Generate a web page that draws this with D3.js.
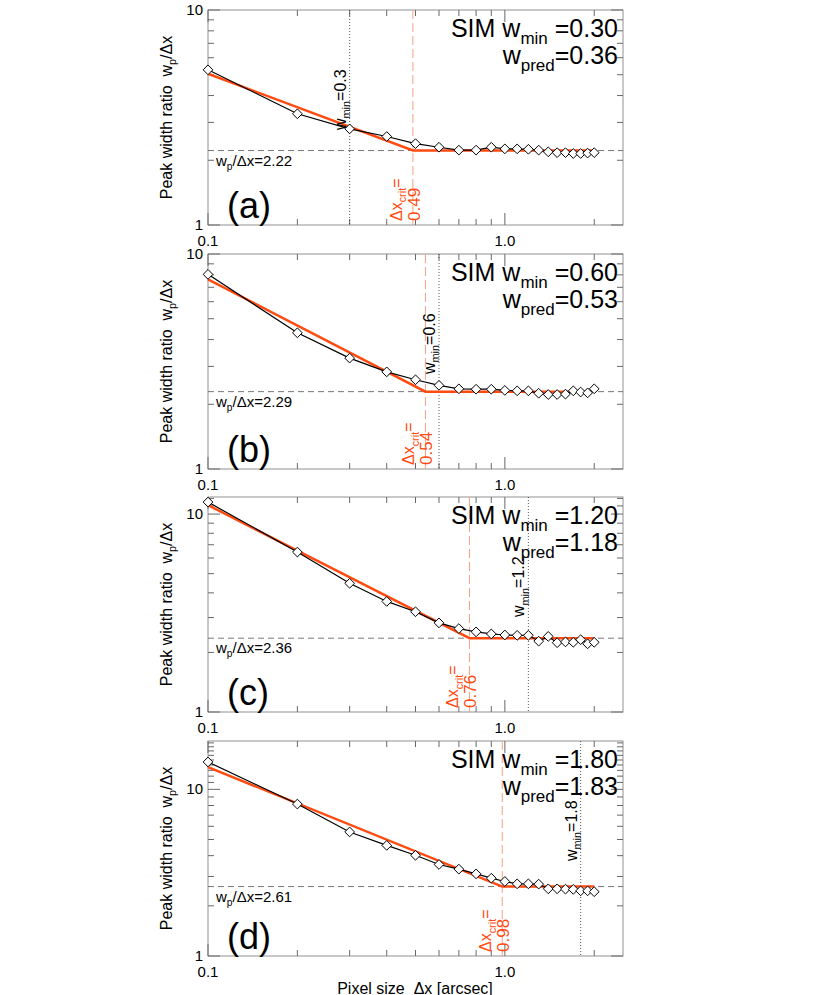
<!DOCTYPE html>
<html><head><meta charset="utf-8">
<script src="https://cdn.jsdelivr.net/npm/d3@7"></script>
<style>body{margin:0;background:#fff}text{font-family:"Liberation Sans",Arial,sans-serif;white-space:pre}</style>
</head><body><svg id="c" width="830" height="995"></svg>
<script>
const pixelSizes=[0.1,0.2,0.3,0.4,0.5,0.6,0.7,0.8,0.9,1.0,1.1,1.2,1.3,1.4,1.5,1.6,1.7,1.8,1.9,2.0];
const ratioA=[5.27,3.29,2.80,2.58,2.39,2.30,2.23,2.23,2.30,2.26,2.26,2.25,2.23,2.19,2.17,2.17,2.15,2.15,2.16,2.17];
const ratioB=[8.04,4.30,3.28,2.83,2.60,2.45,2.36,2.35,2.35,2.32,2.31,2.31,2.25,2.22,2.22,2.23,2.31,2.28,2.26,2.36];
const ratioC=[11.5,6.43,4.47,3.62,3.21,2.82,2.64,2.54,2.48,2.45,2.44,2.44,2.28,2.41,2.24,2.26,2.25,2.32,2.21,2.25];
const ratioD=[14.6,8.16,5.55,4.61,4.02,3.54,3.32,3.11,2.93,2.80,2.71,2.71,2.70,2.53,2.53,2.52,2.51,2.46,2.46,2.43];
const panelLabels=["(a)","(b)","(c)","(d)"];
const wMin=[0.30,0.60,1.20,1.80];
const wPred=[0.36,0.53,1.18,1.83];
const plateau=[2.22,2.29,2.36,2.61];
const xCrit=[0.49,0.54,0.76,0.98];
const modelStart=[5.05,7.62,11.1,13.6];
const yMax=[10,10,12.2,19.5];
const series=[ratioA,ratioB,ratioC,ratioD];
const xTickLabels=[0.1,1.0];

const svg=d3.select("#c");
const L=208,R=623,H=215,tops=[10,254,497,741];
const x=d3.scaleLog().domain([0.1,2.5]).range([L,R]);
const red="#ff4a10", redL="#f5a088";
const minorX=[0.2,0.3,0.4,0.5,0.6,0.7,0.8,0.9,2];

function sub(t,base,s,fs){t.append("tspan").text(base);t.append("tspan").text(s).attr("font-size",fs*0.68).attr("dy",fs*0.28);return t.append("tspan").attr("dy",-fs*0.28);}

series.forEach((vals,i)=>{
  const T=tops[i],B=T+H;
  const y=d3.scaleLog().domain([1,yMax[i]]).range([B,T]);
  const g=svg.append("g");
  const maj=[1,10].filter(v=>v<=yMax[i]);
  const minY=d3.range(2,20).filter(v=>v!==10&&v<=yMax[i]);
  minY.forEach(v=>{g.append("line").attr("x1",L).attr("x2",L+6).attr("y1",y(v)).attr("y2",y(v)).attr("stroke","#000").attr("stroke-width",0.6);
    g.append("line").attr("x1",R).attr("x2",R-6).attr("y1",y(v)).attr("y2",y(v)).attr("stroke","#000").attr("stroke-width",0.6);});
  maj.forEach(v=>{g.append("line").attr("x1",L).attr("x2",L+12).attr("y1",y(v)).attr("y2",y(v)).attr("stroke","#000").attr("stroke-width",0.6);
    g.append("line").attr("x1",R).attr("x2",R-12).attr("y1",y(v)).attr("y2",y(v)).attr("stroke","#000").attr("stroke-width",0.6);
    g.append("text").attr("x",L-5).attr("y",y(v)+5).attr("text-anchor","end").attr("font-size",15).text(v);});
  minorX.forEach(v=>{[[B,B-6],[T,T+6]].forEach(([a,b])=>g.append("line").attr("x1",x(v)).attr("x2",x(v)).attr("y1",a).attr("y2",b).attr("stroke","#000").attr("stroke-width",0.6));});
  xTickLabels.forEach(v=>{[[B,B-12],[T,T+12]].forEach(([a,b])=>g.append("line").attr("x1",x(v)).attr("x2",x(v)).attr("y1",a).attr("y2",b).attr("stroke","#000").attr("stroke-width",0.6));
    g.append("text").attr("x",x(v)).attr("y",B+21).attr("text-anchor","middle").attr("font-size",15).text(v.toFixed(1));});
  g.append("rect").attr("x",L).attr("y",T).attr("width",R-L).attr("height",H).attr("fill","none").attr("stroke","#777").attr("stroke-width",0.8);
  g.append("line").attr("x1",L).attr("x2",R).attr("y1",y(plateau[i])).attr("y2",y(plateau[i])).attr("stroke","#555").attr("stroke-width",0.8).attr("stroke-dasharray","6,4");
  g.append("line").attr("x1",x(wMin[i])).attr("x2",x(wMin[i])).attr("y1",T).attr("y2",B).attr("stroke","#333").attr("stroke-width",0.8).attr("stroke-dasharray","1,2");
  g.append("line").attr("x1",x(xCrit[i])).attr("x2",x(xCrit[i])).attr("y1",T).attr("y2",B).attr("stroke",redL).attr("stroke-width",1).attr("stroke-dasharray","9,4");
  const model=[[0.1,modelStart[i]],[xCrit[i],plateau[i]],[2.0,plateau[i]]];
  g.append("path").attr("d",d3.line().x(d=>x(d[0])).y(d=>y(d[1]))(model)).attr("fill","none").attr("stroke",red).attr("stroke-width",2.5);
  const pts=pixelSizes.map((p,k)=>[p,vals[k]]);
  g.append("path").attr("d",d3.line().x(d=>x(d[0])).y(d=>y(d[1]))(pts)).attr("fill","none").attr("stroke","#000").attr("stroke-width",1.2);
  g.selectAll(".d").data(pts).enter().append("path").attr("d",d3.symbol(d3.symbolDiamond2,60)).attr("transform",d=>`translate(${x(d[0])},${y(d[1])})`).attr("fill","#fff").attr("stroke","#000").attr("stroke-width",1);
  let t=g.append("text").attr("x",R-5).attr("y",T+27).attr("text-anchor","end").attr("font-size",25);
  sub(t,"SIM w","min",25).text(" =" + wMin[i].toFixed(2));
  t=g.append("text").attr("x",R-5).attr("y",T+54).attr("text-anchor","end").attr("font-size",25);
  sub(t,"w","pred",25).text("="+wPred[i].toFixed(2));
  g.append("text").attr("x",L+19).attr("y",B-7).attr("font-size",36).text(panelLabels[i]);
  t=g.append("text").attr("x",L+8).attr("y",y(plateau[i])+15).attr("font-size",15);
  sub(t,"w","p",15).text("/Δx="+plateau[i].toFixed(2));
  t=g.append("text").attr("transform",`translate(${x(wMin[i])-4},${T+120}) rotate(-90)`).attr("font-size",16);
  sub(t,"w","min",16).text("="+d3.format("")(wMin[i]));
  t=g.append("text").attr("transform",`translate(${x(xCrit[i])-11},${B-4}) rotate(-90)`).attr("font-size",16).attr("fill",red);
  sub(t,"Δx","crit",16).text("=");
  g.append("text").attr("transform",`translate(${x(xCrit[i])+7},${B-4}) rotate(-90)`).attr("font-size",17).attr("fill",red).text(xCrit[i].toFixed(2));
  t=g.append("text").attr("transform",`translate(172,${T+H/2}) rotate(-90)`).attr("text-anchor","middle").attr("font-size",16);
  sub(t,"Peak width ratio  w","p",16).text("/Δx");
});
svg.append("text").attr("x",415).attr("y",994).attr("text-anchor","middle").attr("font-size",16).text("Pixel size  Δx [arcsec]");
</script></body></html>
